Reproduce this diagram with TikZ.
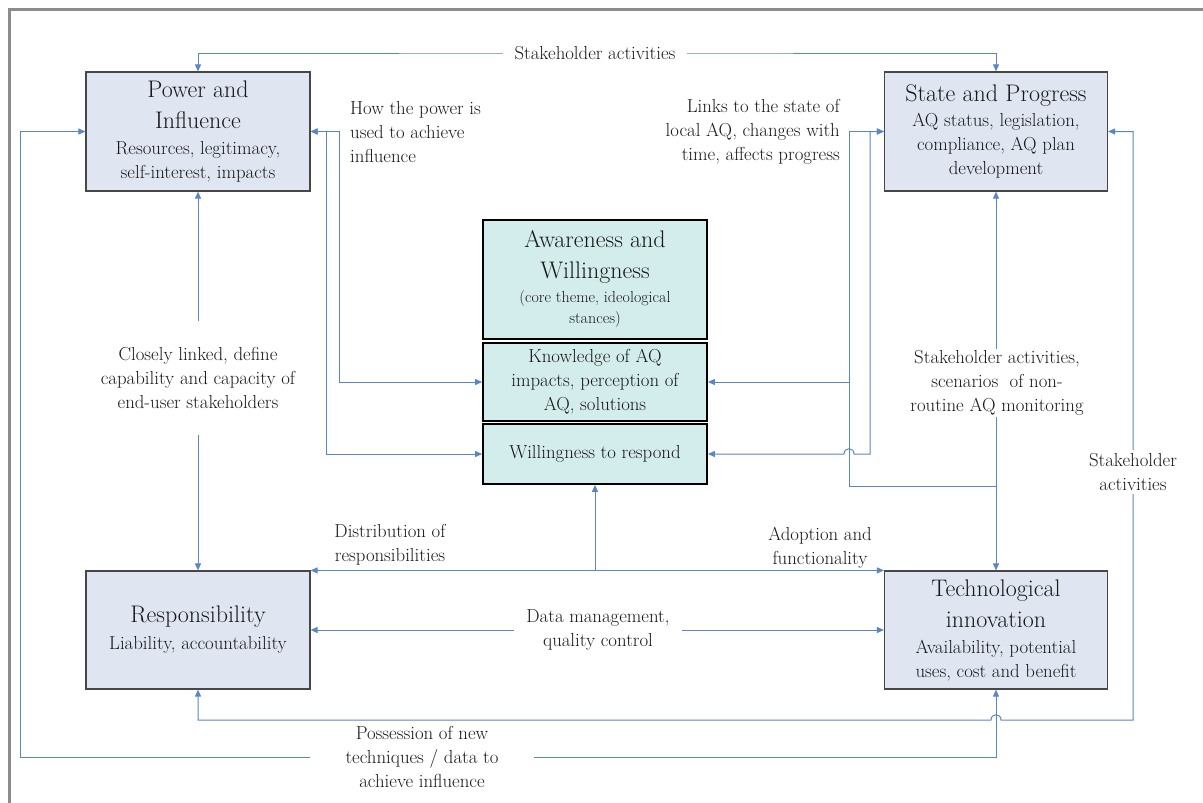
\documentclass[tikz,border=0pt]{standalone}
\usepackage{fontspec}
\setmainfont{Latin Modern Roman}
\usetikzlibrary{arrows.meta}
\definecolor{lc}{HTML}{5B86C6}
\definecolor{boxf}{HTML}{DFE5F1}
\definecolor{tealf}{HTML}{D3ECEC}
\definecolor{framec}{HTML}{8C8C8C}
\newcommand\ttl{\fontsize{24}{31}\selectfont}
\newcommand\sbt{\fontsize{18.8}{24}\selectfont}
\newcommand\sml{\fontsize{16}{21}\selectfont}
\begin{document}
\begin{tikzpicture}[x=1pt,y=-1pt,
  outerbox/.style={draw=black!72, line width=1.2pt, fill=boxf, inner sep=0pt, align=center, font=\sbt, text=black!90},
  corebox/.style={draw=black, line width=1.8pt, fill=tealf, inner sep=0pt, align=center, font=\sbt, text=black!90},
  conn/.style={draw=lc, line width=1pt},
  tip/.style={-{Triangle[length=7pt,width=6pt]}},
  back/.style={{Triangle[length=7pt,width=6pt]}-},
  both/.style={{Triangle[length=7pt,width=6pt]}-{Triangle[length=7pt,width=6pt]}},
  lbl/.style={font=\sbt, align=center, text=black!90, inner sep=0pt},
  wlbl/.style={lbl, fill=white}]
\fill[white] (0,0) rectangle (1203,803);
\useasboundingbox (0,0) rectangle (1203,803);
\draw[framec, line width=2.5pt] (9.5,803) -- (9.5,9.5) -- (1203,9.5);

% boxes
\node[outerbox, minimum width=224pt, minimum height=119pt] (pw) at (198,131.5)
  {\ttl Power and\\[7pt]\ttl Influence\\[2pt]Resources, legitimacy,\\self-interest, impacts};
\node[outerbox, minimum width=223pt, minimum height=119pt] (st) at (996,131.5)
  {\ttl State and Progress\\[1pt]AQ status, legislation,\\compliance, AQ plan\\development};
\node[outerbox, minimum width=224pt, minimum height=118pt] (rs) at (198,630)
  {\ttl Responsibility\\[3pt]Liability, accountability};
\node[outerbox, minimum width=223pt, minimum height=118pt] (te) at (996,630)
  {\ttl Technological\\[7pt]\ttl innovation\\[2pt]Availability, potential\\uses, cost and benefit};
\node[corebox, font=\sml, minimum width=224pt, minimum height=119pt] (aw) at (595,279.5)
  {\ttl Awareness and\\[10pt]\ttl Willingness\\[3pt](core theme, ideological\\stances)};
\node[corebox, minimum width=224pt, minimum height=78pt] (kn) at (595,382)
  {Knowledge of AQ\\impacts, perception of\\AQ, solutions};
\node[corebox, minimum width=224pt, minimum height=60pt] (wi) at (595,454)
  {Willingness to respond};

% junction coordinates
\coordinate (j1) at (849,382);
\coordinate (j2) at (849,486);
\coordinate (j3) at (996,486);
\coordinate (c1) at (595,571);

% connectors
\draw[conn,both] (pw.north) |- (595,53) -| (st.north);
\draw[conn,both] (pw.west) -| (20,757) -| (te.south);
\draw[conn,both] (rs.south) |- (991,720) .. controls (991,713) and (1001,713) .. (1001,720) -- (1133,720) |- (st.east);
\draw[conn,both] (pw.south) -- (rs.north);
\draw[conn,both] (pw.east) -| (339,382) -- (kn.west);
\draw[conn,both] (pw.east) -| (326,454) -- (wi.west);
\draw[conn,back] (st.west) -| (j2) -- (j3);
\draw[conn,tip] (j1) -- (kn.east);
\draw[conn,both] (st.west) -| (870,454) -- (854,454) .. controls (854,447) and (844,447) .. (844,454) -- (wi.east);
\draw[conn,both] (st.south) -- (te.north);
\draw[conn,both] (rs.north east) -- (te.north west);
\draw[conn,tip] (c1) -- (wi.south);
\draw[conn,both] (rs.east) -- (te.west);

% labels
\node[wlbl, inner xsep=12pt, inner ysep=3pt] (l1) at (595,53) {Stakeholder activities};
\node[lbl, align=left, anchor=west] (l2) at (350,132) {How the power is\\used to achieve\\influence};
\node[lbl, align=right, anchor=east] (l3) at (840,132) {Links to the state of\\local AQ, changes with\\time, affects progress};
\node[wlbl, inner xsep=2pt, inner ysep=26pt] (l4) at (198,378) {Closely linked, define\\capability and capacity of\\end-user stakeholders};
\node[wlbl, inner xsep=2pt, inner ysep=2pt] (l5) at (997,383) {Stakeholder activities,\\scenarios\ \ of non-\\routine AQ monitoring};
\node[wlbl, inner xsep=2pt, inner ysep=3pt] (l6) at (1133,472) {Stakeholder\\activities};
\node[lbl] (l7) at (390,545) {Distribution of\\responsibilities};
\node[lbl] (l8) at (820,548) {Adoption and\\functionality};
\node[wlbl, inner xsep=12pt, inner ysep=2pt] (l9) at (598,630) {Data management,\\quality control};
\node[wlbl, inner xsep=36pt, inner ysep=2pt] (l10) at (422,757) {Possession of new\\techniques / data to\\achieve influence};
\end{tikzpicture}
\end{document}
